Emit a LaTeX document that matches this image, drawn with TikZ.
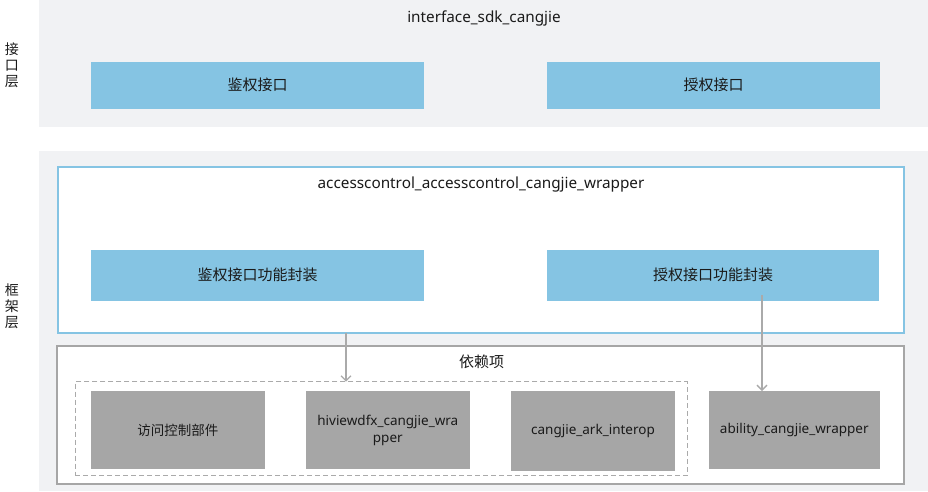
\documentclass[tikz,border=0pt]{standalone}
\usepackage{fontspec}
\setmainfont{Noto Sans}
\newfontfamily\cjk{Noto Sans CJK SC}
\usepackage{tikz}
\usetikzlibrary{arrows.meta,positioning}

\definecolor{panelgray}{RGB}{241,242,244}
\definecolor{boxblue}{RGB}{133,196,227}
\definecolor{boxgray}{RGB}{166,166,166}
\definecolor{linegray}{RGB}{170,170,170}
\definecolor{txt}{RGB}{26,26,26}

\tikzset{
  bluebox/.style={fill=boxblue, inner sep=0pt, outer sep=0pt, text=txt, font=\cjk\fontsize{15}{18}\selectfont},
  graybox/.style={fill=boxgray, inner sep=0pt, outer sep=0pt, text=txt, align=center, font=\fontsize{13.5}{17}\selectfont},
  titletext/.style={inner sep=0pt, text=txt, font=\fontsize{15.3}{18}\selectfont},
  layertext/.style={inner sep=0pt, text=txt, align=center, font=\cjk\fontsize{14}{16}\selectfont},
  deparrow/.style={draw=linegray, line width=1.4pt, -{Straight Barb[length=5pt,width=10pt,line width=1.3pt]}}
}

\begin{document}
\begin{tikzpicture}[x=1pt,y=1pt,yscale=-1]
  \useasboundingbox (0,0) rectangle (928,492);

  %Shape: Rectangle [layer panels]
  \fill [panelgray] (39,0) rectangle (928,127);
  \fill [panelgray] (39,151) rectangle (928,491);

  % Text Node
  \node [layertext] (apiLayer) at (12,65) {接\\口\\层};
  \node [layertext] (fwLayer) at (12,306) {框\\架\\层};

  % Text Node
  \node [titletext] (sdkTitle) at (484,18) {interface\_sdk\_cangjie};

  %Shape: Rectangle [api boxes]
  \node [bluebox, minimum width=333pt, minimum height=46.7pt] (authApi) at (257.5,85.3) {鉴权接口};
  \node [bluebox, minimum width=333pt, minimum height=46.7pt] (grantApi) at (713.5,85.3) {授权接口};

  %Shape: Rectangle [wrapper]
  \node [draw=boxblue, fill=white, line width=2pt, minimum width=846pt, minimum height=166pt, inner sep=0pt, outer sep=0pt] (wrapper) at (481,249.7) {};
  \node [titletext] (wrapperTitle) at (481,185) {accesscontrol\_accesscontrol\_cangjie\_wrapper};
  \node [bluebox, minimum width=333pt, minimum height=50.7pt] (authWrap) at (257.5,275.3) {鉴权接口功能封装};
  \node [bluebox, minimum width=332pt, minimum height=50.7pt] (grantWrap) at (713,275.3) {授权接口功能封装};

  %Shape: Rectangle [dependencies]
  \node [draw=boxgray, fill=white, line width=2pt, minimum width=846.7pt, minimum height=138.3pt, inner sep=0pt, outer sep=0pt] (deps) at (480.7,414.9) {};
  \node [titletext, font=\cjk\fontsize{15}{18}\selectfont] (depsTitle) at (481.5,362) {依赖项};
  \node [draw=linegray, dash pattern={on 5pt off 3pt}, line width=1.4pt, minimum width=612pt, minimum height=94pt, inner sep=0pt, outer sep=0pt] (inner) at (381.3,428.7) {};

  \node [graybox, minimum width=173.7pt, minimum height=78.3pt, font=\cjk\fontsize{13.5}{16}\selectfont] (acBox) at (177.8,430.2) {访问控制部件};
  \node [graybox, minimum width=163.7pt, minimum height=78.3pt] (hiBox) at (387.8,430.2) {hiviewdfx\_cangjie\_wra\\pper};
  \node [graybox, minimum width=164pt, minimum height=80pt] (arkBox) at (593,431) {cangjie\_ark\_interop};
  \node [graybox, minimum width=170.7pt, minimum height=78.3pt] (abBox) at (794.3,430.2) {ability\_cangjie\_wrapper};

  %Straight Lines [dependency arrows]
  \coordinate (arrowA) at (346,0);
  \coordinate (arrowB) at (762,295);
  \draw [deparrow] (wrapper.south -| arrowA) -- (inner.north -| arrowA);
  \draw [deparrow] (arrowB) -- (abBox.north -| arrowB);

\end{tikzpicture}
\end{document}
